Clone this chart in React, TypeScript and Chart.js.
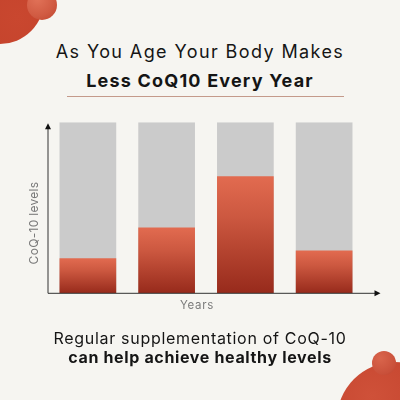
import React, { useEffect, useRef } from "react";
import { Chart, registerables } from "chart.js";

Chart.register(...registerables);

const categories = ["Age 1", "Age 2", "Age 3", "Age 4"];
const coq10Levels = [20.5, 38.5, 68.5, 25];
const capacity = [100, 100, 100, 100];
const titleLines = ["As You Age Your Body Makes", "Less CoQ10 Every Year"];
const footerLines = ["Regular supplementation of CoQ-10", "can help achieve healthy levels"];
const xTitle = "Years";
const yTitle = "CoQ-10 levels";

const FONT = "Inter, 'Noto Sans', sans-serif";

const axisArrows = {
  id: "axisArrows",
  afterDatasetsDraw(chart: any) {
    const { ctx, chartArea } = chart;
    const x0 = chartArea.left - 0.5;
    const y0 = chartArea.bottom;
    ctx.save();
    ctx.strokeStyle = "#333";
    ctx.fillStyle = "#111";
    ctx.lineWidth = 1;
    ctx.beginPath();
    ctx.moveTo(x0, y0);
    ctx.lineTo(x0, chartArea.top + 4);
    ctx.moveTo(x0, y0);
    ctx.lineTo(chartArea.right + 12, y0);
    ctx.stroke();
    // y arrowhead
    ctx.beginPath();
    ctx.moveTo(x0, chartArea.top + 1);
    ctx.lineTo(x0 - 3, chartArea.top + 7);
    ctx.lineTo(x0 + 3, chartArea.top + 7);
    ctx.closePath();
    ctx.fill();
    // x arrowhead
    const xe = chartArea.right + 17;
    ctx.beginPath();
    ctx.moveTo(xe, y0);
    ctx.lineTo(xe - 6, y0 - 3);
    ctx.lineTo(xe - 6, y0 + 3);
    ctx.closePath();
    ctx.fill();
    ctx.restore();
  },
};

function redGradient(c: any) {
  const chart = c.chart;
  const { chartArea } = chart;
  if (!chartArea || c.type !== "data") return "#c8503a";
  const y = chart.scales.y;
  const top = y.getPixelForValue(c.raw);
  const bottom = y.getPixelForValue(0);
  const g = chart.ctx.createLinearGradient(0, top, 0, bottom);
  g.addColorStop(0, "#e26b50");
  g.addColorStop(0.35, "#cc5840");
  g.addColorStop(1, "#972a1b");
  return g;
}

function BarChart() {
  const ref = useRef<HTMLCanvasElement>(null);
  useEffect(() => {
    if (!ref.current) return;
    const chart = new Chart(ref.current, {
      type: "bar",
      data: {
        labels: categories,
        datasets: [
          {
            label: "CoQ-10",
            data: coq10Levels,
            backgroundColor: redGradient,
            barPercentage: 0.72,
            categoryPercentage: 1,
          },
          {
            label: "Capacity",
            data: capacity,
            backgroundColor: "#cbcbcb",
            barPercentage: 0.72,
            categoryPercentage: 1,
          },
        ],
      },
      options: {
        animation: false,
        responsive: false,
        events: [],
        layout: { padding: { left: 48.5, right: 36.5, top: 122.3, bottom: 106.7 } },
        plugins: { legend: { display: false }, tooltip: { enabled: false }, title: { display: false } },
        scales: {
          x: { display: false, stacked: true },
          y: { display: false, stacked: false, min: 0, max: 100 },
        },
      },
      plugins: [axisArrows],
    });
    return () => chart.destroy();
  }, []);
  return (
    <canvas
      ref={ref}
      width={400}
      height={400}
      style={{ position: "absolute", left: 0, top: 0, width: 400, height: 400 }}
    />
  );
}

const abs = (s: React.CSSProperties): React.CSSProperties => ({ position: "absolute", ...s });

export default function App() {
  return (
    <div
      style={abs({
        left: 0,
        top: 0,
        width: 400,
        height: 400,
        overflow: "hidden",
        background: "#f6f5f1",
        fontFamily: FONT,
        color: "#151515",
      })}
    >
      {/* decorative circles */}
      <div
        style={abs({
          left: -44,
          top: -44,
          width: 88,
          height: 88,
          borderRadius: "50%",
          background: "radial-gradient(circle at 70% 70%, #c9472f 0%, #c4432c 60%, #b53a26 100%)",
        })}
      />
      <div
        style={abs({
          left: 27,
          top: -10,
          width: 30,
          height: 30,
          borderRadius: "50%",
          background: "radial-gradient(circle at 35% 30%, #e17258 0%, #d05a42 60%, #bd432d 100%)",
        })}
      />
      <div
        style={abs({
          left: 337,
          top: 362,
          width: 116,
          height: 116,
          borderRadius: "50%",
          background: "radial-gradient(circle at 30% 30%, #cf5139 0%, #c4442e 60%, #b63a27 100%)",
        })}
      />
      <div
        style={abs({
          left: 372,
          top: 351,
          width: 24,
          height: 24,
          borderRadius: "50%",
          background: "radial-gradient(circle at 35% 30%, #d9654c 0%, #c9503a 70%, #b8402c 100%)",
        })}
      />

      {/* title */}
      <div style={abs({ left: 0, width: 400, top: 43, textAlign: "center", fontSize: 18, lineHeight: "18px", fontWeight: 400, letterSpacing: 1.4 })}>
        {titleLines[0]}
      </div>
      <div style={abs({ left: 0, width: 400, top: 72, textAlign: "center", fontSize: 18, lineHeight: "18px", fontWeight: 700, letterSpacing: 1.2 })}>
        {titleLines[1]}
      </div>
      <div style={abs({ left: 67, width: 277, top: 95.5, height: 1.3, background: "#c49a8b" })} />

      <BarChart />

      {/* axis titles */}
      <div style={abs({ left: 0, width: 400, top: 299, textAlign: "center", fontSize: 11.5, lineHeight: "12px", color: "#7a7a7a", marginLeft: -3, letterSpacing: 0.7 })}>
        {xTitle}
      </div>
      <div
        style={abs({
          left: 34 - 60,
          top: 223 - 7,
          width: 120,
          height: 14,
          lineHeight: "14px",
          fontSize: 12,
          textAlign: "center",
          color: "#7a7a7a",
          letterSpacing: 0.3,
          transform: "rotate(-90deg)",
        })}
      >
        {yTitle}
      </div>

      {/* footer */}
      <div style={abs({ left: 0, width: 400, top: 330, textAlign: "center", fontSize: 16, lineHeight: "16px", fontWeight: 400, letterSpacing: 0.7 })}>
        {footerLines[0]}
      </div>
      <div style={abs({ left: 0, width: 400, top: 349, textAlign: "center", fontSize: 16, lineHeight: "16px", fontWeight: 700, letterSpacing: 0.65 })}>
        {footerLines[1]}
      </div>
    </div>
  );
}
